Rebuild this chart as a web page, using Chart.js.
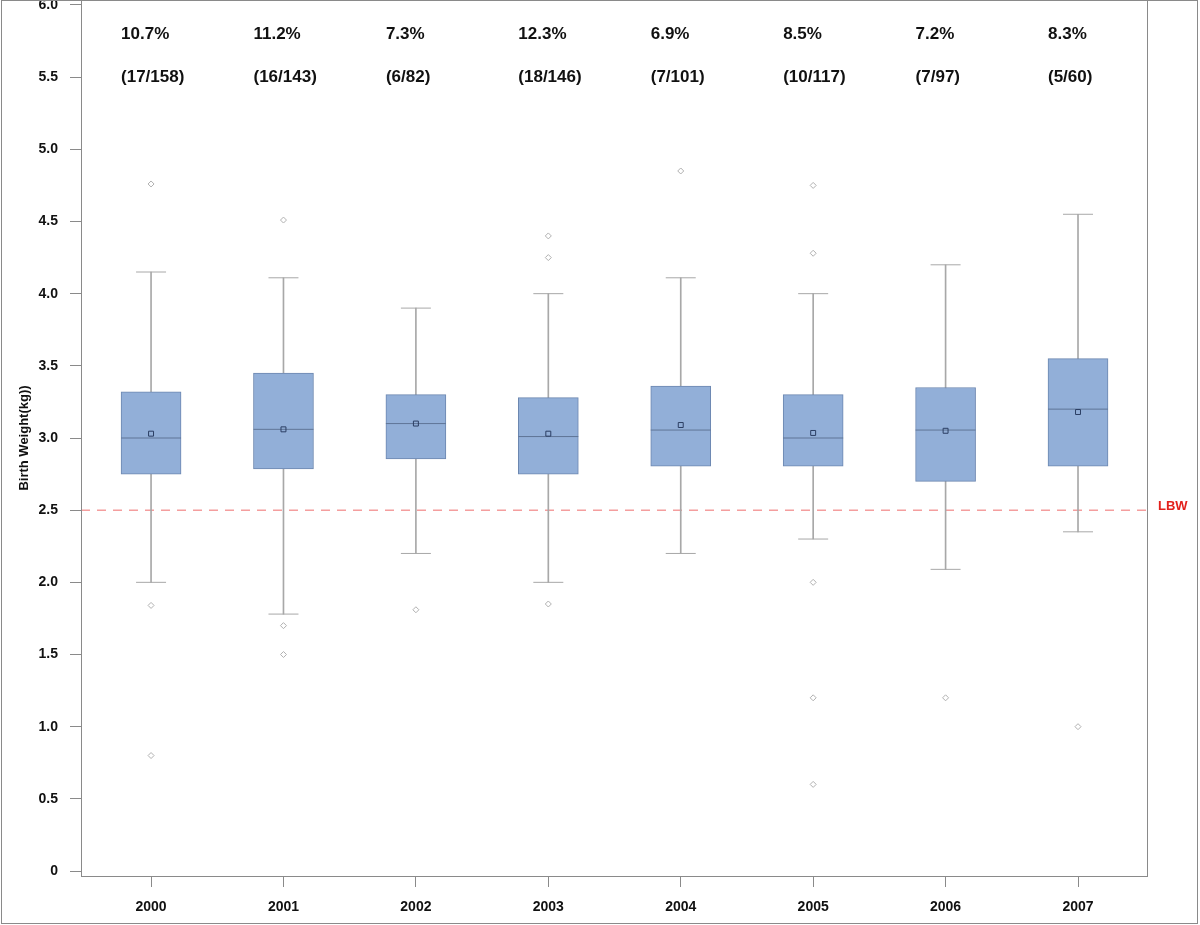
<!DOCTYPE html>
<html>
<head>
<meta charset="utf-8">
<script src="https://cdn.jsdelivr.net/npm/chart.js@4/dist/chart.umd.min.js"></script>
<style>
  body { margin: 0; background: #fff; }
  canvas { display: block; }
</style>
</head>
<body>
<canvas id="myChart" width="1200" height="925"></canvas>
<script>
// data
var years = [2000, 2001, 2002, 2003, 2004, 2005, 2006, 2007];
var whiskerLow = [2.0, 1.78, 2.2, 2.0, 2.2, 2.3, 2.09, 2.35];
var q1 = [2.75, 2.785, 2.855, 2.75, 2.805, 2.805, 2.70, 2.805];
var medians = [3.0, 3.06, 3.10, 3.01, 3.055, 3.0, 3.055, 3.20];
var q3 = [3.32, 3.45, 3.30, 3.28, 3.36, 3.30, 3.35, 3.55];
var whiskerHigh = [4.15, 4.11, 3.9, 4.0, 4.11, 4.0, 4.2, 4.55];
var means = [3.03, 3.06, 3.10, 3.03, 3.09, 3.035, 3.05, 3.18];
var outlierYears = [2000, 2000, 2000, 2001, 2001, 2001, 2002, 2003, 2003, 2003, 2004, 2005, 2005, 2005, 2005, 2005, 2006, 2007];
var outlierValues = [4.76, 1.84, 0.80, 4.51, 1.70, 1.50, 1.81, 4.40, 4.25, 1.85, 4.85, 4.75, 4.28, 2.0, 1.2, 0.6, 1.2, 1.0];
var pctLabels = ['10.7%', '11.2%', '7.3%', '12.3%', '6.9%', '8.5%', '7.2%', '8.3%'];
var countLabels = ['(17/158)', '(16/143)', '(6/82)', '(18/146)', '(7/101)', '(10/117)', '(7/97)', '(5/60)'];
var yTicks = [0, 0.5, 1.0, 1.5, 2.0, 2.5, 3.0, 3.5, 4.0, 4.5, 5.0, 5.5, 6.0];
var lbwValue = 2.5;

var xMin = 1999.471, xMax = 2007.521;
var yMin = -0.0346, yMax = 6.0346;

function pts(vals) {
    return years.map((yr, i) => ({ x: yr, y: vals[i] }));
}

function noPad(s) {
    s.paddingTop = 0; s.paddingBottom = 0; s.paddingLeft = 0; s.paddingRight = 0;
}

var annotations = {
    id: 'annotations',
    afterDraw(chart) {
        var c = chart.ctx, a = chart.chartArea;
        var xs = chart.scales.x, ys = chart.scales.y;
        c.save();
        // plot frame
        c.strokeStyle = '#8a8a8a';
        c.lineWidth = 1;
        c.strokeRect(a.left + 0.5, a.top + 0.5, a.right - a.left, a.bottom - a.top);
        // outer frame
        c.strokeRect(1.5, 0.5, 1196, 923);
        // percent / count labels above each box
        c.fillStyle = '#111';
        c.font = 'bold 17px "Liberation Sans", Arial, sans-serif';
        c.textAlign = 'left';
        c.textBaseline = 'middle';
        years.forEach((yr, i) => {
            var px = xs.getPixelForValue(yr) - 30;
            c.fillText(pctLabels[i], px, ys.getPixelForValue(5.8));
            c.fillText(countLabels[i], px, ys.getPixelForValue(5.5));
        });
        // LBW label
        c.fillStyle = '#e3211c';
        c.font = 'bold 13px "Liberation Sans", Arial, sans-serif';
        c.fillText('LBW', a.right + 11, ys.getPixelForValue(lbwValue) - 4);
        c.restore();
    }
};

var ctx = document.getElementById('myChart').getContext('2d');
var myChart = new Chart(ctx, {
    type: 'bar',
    data: {
        datasets: [
            {
                label: 'whisker',
                data: years.map((yr, i) => ({ x: yr, y: [whiskerLow[i], whiskerHigh[i]] })),
                backgroundColor: '#a8a8a8',
                barThickness: 1,
                grouped: false,
                order: 5
            },
            {
                label: 'box',
                data: years.map((yr, i) => ({ x: yr, y: [q1[i], q3[i]] })),
                backgroundColor: '#92afd8',
                borderColor: '#6c87b0',
                borderWidth: 1,
                borderSkipped: false,
                barThickness: 60,
                grouped: false,
                order: 4
            },
            {
                type: 'scatter',
                label: 'caps',
                data: pts(whiskerLow).concat(pts(whiskerHigh)),
                pointStyle: 'line',
                pointRadius: 15,
                borderColor: '#a8a8a8',
                borderWidth: 1,
                order: 3
            },
            {
                type: 'scatter',
                label: 'median',
                data: pts(medians),
                pointStyle: 'line',
                pointRadius: 30,
                borderColor: '#5f7597',
                borderWidth: 1,
                order: 2
            },
            {
                type: 'scatter',
                label: 'mean',
                data: pts(means),
                pointStyle: 'rect',
                pointRadius: 3.5,
                backgroundColor: 'rgba(0,0,0,0)',
                borderColor: '#2b3e63',
                borderWidth: 1,
                order: 1
            },
            {
                type: 'scatter',
                label: 'outliers',
                data: outlierYears.map((yr, i) => ({ x: yr, y: outlierValues[i] })),
                pointStyle: 'rectRot',
                pointRadius: 3,
                backgroundColor: '#fff',
                borderColor: '#b0b0b0',
                borderWidth: 1,
                order: 1
            },
            {
                type: 'line',
                label: 'LBW',
                data: [{ x: xMin, y: lbwValue }, { x: xMax, y: lbwValue }],
                borderColor: '#ee6c6c',
                borderWidth: 1,
                borderDash: [9, 7],
                pointRadius: 0,
                order: 6
            }
        ]
    },
    options: {
        responsive: false,
        animation: false,
        events: [],
        layout: { autoPadding: false, padding: { top: 0, right: 53, bottom: 0, left: 0 } },
        plugins: { legend: { display: false }, tooltip: { enabled: false } },
        scales: {
            x: {
                type: 'linear',
                min: xMin,
                max: xMax,
                offset: false,
                afterBuildTicks: s => { s.ticks = years.map(v => ({ value: v })); },
                afterFit: s => { s.height = 49; noPad(s); },
                grid: { offset: false, drawOnChartArea: false, tickLength: 11, color: '#8a8a8a' },
                border: { color: '#8a8a8a' },
                ticks: {
                    padding: 12,
                    color: '#111',
                    font: { family: '"Liberation Sans", Arial, sans-serif', size: 14, weight: 'bold' },
                    callback: v => String(v)
                }
            },
            y: {
                min: yMin,
                max: yMax,
                afterBuildTicks: s => { s.ticks = yTicks.map(v => ({ value: v })); },
                afterFit: s => { s.width = 81; noPad(s); },
                grid: { drawOnChartArea: false, tickLength: 11, color: '#8a8a8a' },
                border: { color: '#8a8a8a' },
                title: {
                    display: true,
                    text: 'Birth Weight(kg))',
                    color: '#111',
                    padding: { top: 17, bottom: 0 },
                    font: { family: '"Liberation Sans", Arial, sans-serif', size: 13, weight: 'bold' }
                },
                ticks: {
                    padding: 12,
                    color: '#111',
                    font: { family: '"Liberation Sans", Arial, sans-serif', size: 14, weight: 'bold' },
                    callback: v => v === 0 ? '0' : v.toFixed(1)
                }
            }
        }
    },
    plugins: [annotations]
});
</script>
</body>
</html>
